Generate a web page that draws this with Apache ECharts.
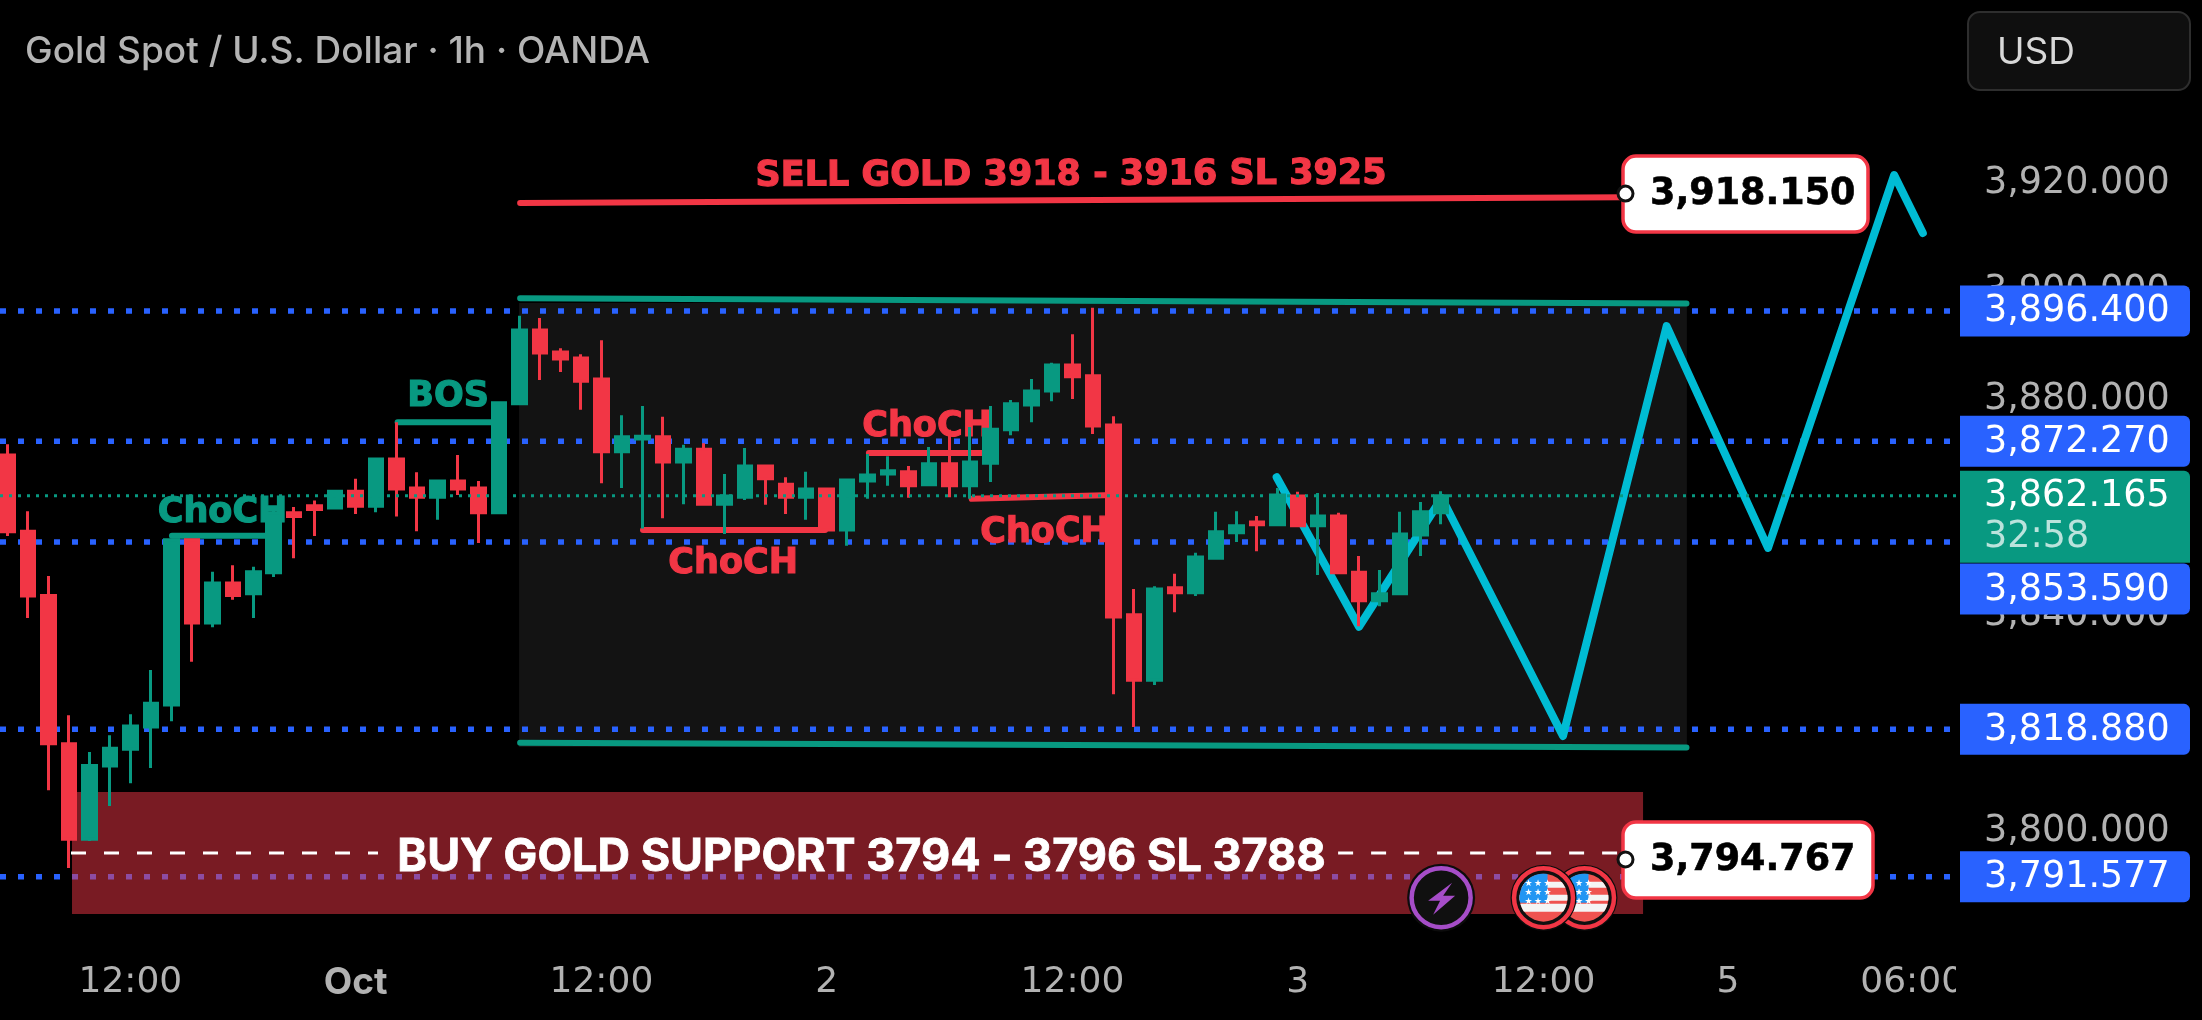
<!DOCTYPE html>
<html><head><meta charset="utf-8">
<style>html,body{margin:0;padding:0;background:#000}#c{width:2202px;height:1020px}</style>
<script src="https://cdn.jsdelivr.net/npm/echarts@6/dist/echarts.min.js"></script>
</head><body><div id="c"></div>
<script>
// ---------- data ----------
const tickIndex=[6,17,29,40,52,63,75,84,93];
const tickText=['12:00','Oct','12:00','2','12:00','3','12:00','5','06:00'];
const yTicks=[3800,3820,3840,3860,3880,3900,3920];
const opens=[3869.7,3855.6,3843.7,3816.2,3798.5,3812.1,3815.2,3819.3,3823.4,3854.0,3838.6,3846.0,3844.0,3847.9,3859.0,3860.3,3859.9,3863.0,3860.2,3869.0,3863.6,3861.9,3864.9,3863.6,3859.0,3879.2,3892.9,3888.8,3887.7,3883.8,3870.3,3872.7,3873.1,3868.4,3870.8,3860.6,3861.9,3867.7,3864.3,3861.9,3863.4,3855.8,3864.9,3866.2,3866.6,3864.2,3868.1,3864.0,3868.2,3874.4,3879.0,3881.6,3886.4,3884.4,3875.3,3840.1,3828.0,3845.1,3844.2,3850.6,3855.3,3857.3,3856.8,3862.1,3856.6,3858.4,3848.0,3842.7,3844.0,3854.9,3859.0];
const closes=[3855.5,3843.6,3816.2,3798.5,3812.2,3815.4,3819.5,3823.7,3854.0,3838.6,3846.0,3843.7,3848.1,3859.0,3858.3,3859.6,3863.0,3860.2,3869.0,3863.4,3861.9,3864.9,3863.4,3859.0,3879.4,3892.9,3888.6,3887.5,3883.4,3870.3,3873.1,3873.2,3868.4,3870.8,3860.6,3862.1,3867.7,3865.3,3861.9,3863.4,3855.8,3865.1,3866.0,3866.8,3864.0,3868.1,3864.0,3868.4,3874.5,3879.2,3881.6,3886.4,3884.2,3875.1,3839.7,3828.0,3844.9,3844.2,3850.8,3855.5,3856.6,3856.8,3862.3,3856.6,3858.4,3847.9,3842.7,3844.0,3855.1,3859.2,3862.165];
const lows=[3854.7,3839.5,3807.6,3793.2,3798.2,3804.7,3808.9,3811.7,3820.4,3831.4,3837.8,3842.9,3839.5,3847.1,3850.6,3854.7,3859.9,3858.8,3859.1,3858.3,3855.6,3857.7,3862.3,3853.4,3859.0,3879.2,3883.6,3885.1,3878.1,3864.5,3863.6,3856.1,3858.0,3860.6,3860.6,3855.1,3861.4,3860.5,3858.8,3857.7,3855.8,3852.9,3861.6,3864.0,3861.8,3864.2,3861.9,3861.6,3864.7,3873.4,3875.8,3879.7,3880.1,3873.6,3825.4,3819.3,3827.1,3840.6,3843.6,3850.6,3853.6,3851.9,3856.8,3856.6,3847.5,3847.7,3838.0,3841.7,3844.0,3851.0,3856.9];
const highs=[3871.7,3859.3,3847.3,3821.5,3814.7,3817.8,3821.7,3829.9,3854.2,3854.2,3848.1,3849.3,3849.0,3859.6,3860.1,3861.3,3863.0,3865.3,3869.0,3875.8,3866.5,3865.1,3869.7,3864.9,3879.7,3895.5,3895.1,3889.5,3888.4,3891.0,3877.1,3878.8,3876.8,3871.6,3871.9,3866.2,3871.0,3867.7,3865.6,3866.6,3863.6,3865.3,3869.9,3869.5,3867.7,3871.2,3874.4,3874.9,3878.8,3879.9,3883.8,3886.8,3892.1,3897.0,3876.9,3844.9,3845.4,3847.7,3851.6,3859.2,3859.3,3858.4,3863.6,3862.9,3862.7,3859.0,3851.0,3848.4,3859.2,3861.0,3863.0];
const projectionX=[61.97,65.99,70.03,75.95,81.01,85.96,92.12,93.52];
const projectionY=[3865.6,3837.9,3861.75,3817.65,3893.6,3852.5,3921.6,3910.85];
const alertLevels=[3896.4,3872.27,3853.59,3818.88,3791.577];
const alertLabels=['3,896.400','3,872.270','3,853.590','3,818.880','3,791.577'];
const lastPrice=3862.165, lastLabel='3,862.165', countdown='32:58';
const calloutPrices=[3918.15,3794.767];
const calloutLabels=['3,918.150','3,794.767'];
const rangeBox=[24.98,82.0,3897.9,3815.6];
const supportZone=[3.15,79.86,3807.28,3784.67];
const sellLineX=[25.03,78.98], sellLineY=[3916.4,3917.5];
const rangeTopX=[25.03,81.98], rangeTopY=[3898.75,3897.8];
const rangeBottomX=[25.03,81.98], rangeBottomY=[3816.4,3815.5];
const bosX=[19.05,23.61], bosY=[3875.8,3875.8];
const tealChochX=[8.03,12.72], tealChochY=[3854.75,3854.75];
const redChoch1X=[31.03,39.92], redChoch1Y=[3855.8,3855.8];
const redChoch2X=[42.06,47.97], redChoch2Y=[3870.1,3870.1];
const redChoch3X=[47.08,53.98], redChoch3Y=[3861.6,3862.3];
const dashLeftX=[3.1,18.09], dashRightX=[64.97,78.64], dashY=[3795.97,3795.97];
const noteText=['SELL GOLD 3918 - 3916 SL 3925','BOS','ChoCH','ChoCH','ChoCH','ChoCH'];
const noteX=[51.93,21.51,10.5,35.43,44.9,50.66];
const noteY=[3921.5,3880.5,3858.9,3849.6,3875.0,3855.3];
const buyText='BUY GOLD SUPPORT 3794 - 3796 SL 3788', buyX=41.7, buyY=3795.1;
const eventX=[70,77,75], eventKind=['bolt','flag','flag'], eventPrice=3787.7;

// ---------- style ----------
const UP='#089981',DOWN='#f23645',BLUE='#2962ff',CYAN='#00bcd4',GREY='#b2b2b2';
const F='Inter, "Noto Sans", sans-serif';
const DF='"DejaVu Sans", sans-serif';
const noteColor=[DOWN,UP,UP,DOWN,DOWN,DOWN];
const noteTilt=[0.0037,0,0,0,0,0.004];

function seg(xs,ys,color,width,z,extra){
  return Object.assign({type:'line',silent:true,showSymbol:false,symbol:'none',animation:false,z:z,
    data:xs.map((x,i)=>[x,ys[i]]),
    lineStyle:{color:color,width:width,cap:'round',join:'round'}},extra||{});
}
function box(b,fill,z){
  return {type:'custom',silent:true,animation:false,z:z,data:[[b[0],b[2],b[1],b[3]]],encode:{x:[0,2],y:[1,3]},
    renderItem:(p,api)=>{const a=api.coord([api.value(0),api.value(1)]),c=api.coord([api.value(2),api.value(3)]);
      return {type:'rect',shape:{x:a[0],y:a[1],width:c[0]-a[0],height:c[1]-a[1]},style:{fill:fill}};}};
}
function discPoly(cx,cy,r,x1,x2,y1,y2){
  const pts=[];for(let a=0;a<72;a++){const t=a/72*Math.PI*2;
    pts.push([Math.min(x2,Math.max(x1,cx+r*Math.cos(t))),Math.min(y2,Math.max(y1,cy+r*Math.sin(t)))]);}
  return pts;
}
function flagChildren(cx,cy){
  const r=24,k=[];
  k.push({type:'circle',shape:{cx,cy,r:33},style:{fill:'#0c0c0c'}});
  k.push({type:'circle',shape:{cx,cy,r:29.5},style:{fill:'#101010',stroke:DOWN,lineWidth:4.5}});
  k.push({type:'circle',shape:{cx,cy,r},style:{fill:'#ef5350'}});
  [[-16,-10],[-3,3],[6,14]].forEach(s=>k.push({type:'polygon',shape:{points:discPoly(cx,cy,r,cx-r,cx+r,cy+s[0],cy+s[1])},style:{fill:'#f4f4f4'}}));
  k.push({type:'polygon',shape:{points:discPoly(cx,cy,r,cx-r,cx+4,cy-r,cy+5)},style:{fill:'#2196f3'}});
  for(let a=0;a<3;a++)for(let b=0;b<3;b++)k.push({type:'text',style:{text:'★',x:cx-15+b*9.5,y:cy-14+a*9,fill:'#fff',font:'9px "DejaVu Sans"',align:'center',verticalAlign:'middle'}});
  return k;
}
function boltChildren(cx,cy){
  return [{type:'circle',shape:{cx,cy,r:34},style:{fill:'#0c0c0c'}},
    {type:'circle',shape:{cx,cy,r:29.5},style:{fill:'#101010',stroke:'#a64dc8',lineWidth:4.5}},
    {type:'polygon',shape:{points:[[cx+11,cy-15],[cx-13,cy+3],[cx-1,cy+3],[cx-8,cy+17],[cx+14,cy-2],[cx+2,cy-2]]},style:{fill:'#a64dc8'}}];
}

const series=[
  box(rangeBox,'#131313',1),
  ...alertLevels.map(v=>seg([-0.366,94.85],[v,v],BLUE,5.5,2,{lineStyle:{color:BLUE,width:5.5,type:[6,12],cap:'butt'}})),
  box(supportZone,'rgba(242,54,69,0.5)',3),
  seg(projectionX,projectionY,CYAN,8,4),
  seg(sellLineX,sellLineY,DOWN,6,4),
  seg(rangeTopX,rangeTopY,UP,6,4),
  seg(rangeBottomX,rangeBottomY,UP,6,4),
  seg(bosX,bosY,UP,6,4),
  seg(tealChochX,tealChochY,UP,6,4),
  seg(redChoch1X,redChoch1Y,DOWN,6,4),
  seg(redChoch2X,redChoch2Y,DOWN,6,4),
  seg(redChoch3X,redChoch3Y,DOWN,6,4),
  {type:'custom',silent:true,animation:false,z:4,
    data:noteText.map((t,i)=>[noteX[i],noteY[i]]),encode:{x:0,y:1},
    renderItem:(p,api)=>{const c=api.coord([api.value(0),api.value(1)]),i=p.dataIndex;
      return {type:'text',x:c[0],y:c[1],rotation:noteTilt[i],
        style:{text:noteText[i],x:0,y:0,fill:noteColor[i],stroke:noteColor[i],lineWidth:1.2,font:'bold 35px '+DF,align:'center',verticalAlign:'middle'}};}},
  {type:'candlestick',silent:true,animation:false,z:5,barWidth:14,
    data:opens.map((o,i)=>[i,o,closes[i],lows[i],highs[i]]),encode:{x:0,y:[1,2,3,4]},
    itemStyle:{color:UP,color0:DOWN,borderColor:UP,borderColor0:DOWN,borderWidth:3}},
  seg([-0.366,95.14],[lastPrice,lastPrice],UP,3,6,{lineStyle:{color:UP,width:3,type:[3,6],cap:'butt'}}),
  seg(dashLeftX,dashY,'#ffffff',3,6,{lineStyle:{color:'#fff',width:3,type:[15,18],cap:'butt'}}),
  seg(dashRightX,dashY,'#ffffff',3,6,{lineStyle:{color:'#fff',width:3,type:[15,18],cap:'butt'}}),
  {type:'custom',silent:true,animation:false,z:6,data:[[buyX,buyY]],encode:{x:0,y:1},
    renderItem:(p,api)=>{const c=api.coord([api.value(0),api.value(1)]);
      return {type:'text',style:{text:buyText,x:c[0],y:c[1],fill:'#fff',stroke:'#fff',lineWidth:0.8,font:'bold 45px '+F,align:'center',verticalAlign:'middle'}};}},
  {type:'custom',silent:true,animation:false,z:9,data:eventX.map(x=>[x,eventPrice]),encode:{x:0,y:1},
    renderItem:(p,api)=>{const c=api.coord([api.value(0),api.value(1)]);
      return {type:'group',children:eventKind[p.dataIndex]==='bolt'?boltChildren(c[0],c[1]):flagChildren(c[0],c[1])};}},
  {type:'custom',silent:true,animation:false,z:10,
    data:alertLevels.map(v=>[0,v]),encode:{x:0,y:1},
    renderItem:(p,api)=>{const y=api.coord([0,api.value(1)])[1]+(alertLevels[p.dataIndex]===3853.59?47:0);
      return {type:'group',children:[
        {type:'rect',shape:{x:1960,y:y-25.5,width:230,height:51,r:[0,6,6,0]},style:{fill:'#2962ff'}},
        {type:'text',style:{text:alertLabels[p.dataIndex],x:1984,y:y+1,fill:'#fff',font:'36.5px '+DF,align:'left',verticalAlign:'middle'}}]};}},
  {type:'custom',silent:true,animation:false,z:11,data:[[0,lastPrice]],encode:{x:0,y:1},
    renderItem:(p,api)=>{const y=api.coord([0,api.value(1)])[1];
      return {type:'group',children:[
        {type:'rect',shape:{x:1960,y:y-25,width:230,height:92,r:[0,6,0,0]},style:{fill:UP}},
        {type:'text',style:{text:lastLabel,x:1984,y:y+1,fill:'#fff',font:'36.5px '+DF,align:'left',verticalAlign:'middle'}},
        {type:'text',style:{text:countdown,x:1984,y:y+42,fill:'rgba(255,255,255,0.72)',font:'36.5px '+DF,align:'left',verticalAlign:'middle'}}]};}},
  {type:'custom',silent:true,animation:false,z:12,data:calloutPrices.map(v=>[0,v]),encode:{x:0,y:1},
    renderItem:(p,api)=>{const y=api.coord([0,api.value(1)])[1],W=p.dataIndex===0?245:250;
      return {type:'group',children:[
        {type:'rect',shape:{x:1623,y:y-37.5,width:W,height:76,r:13},style:{fill:'#fff',stroke:DOWN,lineWidth:3.5}},
        {type:'circle',shape:{cx:1625.5,cy:y,r:7.5},style:{fill:'#fff',stroke:'#111',lineWidth:3}},
        {type:'text',style:{text:calloutLabels[p.dataIndex],x:1650,y:y+1,fill:'#000',stroke:'#000',lineWidth:0.6,font:'bold 36.5px '+DF,align:'left',verticalAlign:'middle'}}]};}}
];

const chart=echarts.init(document.getElementById('c'),null,{renderer:'canvas',width:2202,height:1020});
chart.setOption({
  backgroundColor:'#000',animation:false,
  title:{text:'Gold Spot / U.S. Dollar · 1h · OANDA',left:20,top:28,textStyle:{color:'#b4b4b4',fontFamily:F,fontWeight:500,fontSize:37}},
  grid:{left:0,top:75.7,width:1956,height:863.5,containLabel:false},
  xAxis:{type:'value',min:-0.366,max:95.14,axisLine:{show:false},axisTick:{show:false},splitLine:{show:false},
     axisLabel:{show:true,color:GREY,fontFamily:DF,fontSize:36,margin:25,hideOverlap:false,customValues:tickIndex,
       formatter:(v)=>{const t=tickText[tickIndex.indexOf(v)];return t==='Oct'?'{b|Oct}':t;},
       rich:{b:{fontFamily:F,fontSize:37,fontWeight:'bold',color:GREY}}}},
  yAxis:{type:'value',position:'right',min:3780,max:3940,interval:20,
    axisLine:{show:false},axisTick:{show:false},splitLine:{show:false},
    axisLabel:{color:GREY,fontFamily:DF,fontSize:36.5,margin:28,customValues:yTicks,
      formatter:(v)=>v.toLocaleString('en-US',{minimumFractionDigits:3,maximumFractionDigits:3})}},
  graphic:[
    {type:'rect',z:50,shape:{x:1968,y:12,width:222,height:78,r:12},style:{fill:'#0f0f0f',stroke:'#2e2e2e',lineWidth:2}},
    {type:'text',z:51,style:{text:'USD',x:1997,y:53,fill:'#d8d8d8',font:'37px '+F,textAlign:'left',textVerticalAlign:'middle'}},
    {type:'rect',z:50,shape:{x:1956,y:950,width:40,height:70},style:{fill:'#000'}}
  ],
  series:series
});
</script></body></html>
